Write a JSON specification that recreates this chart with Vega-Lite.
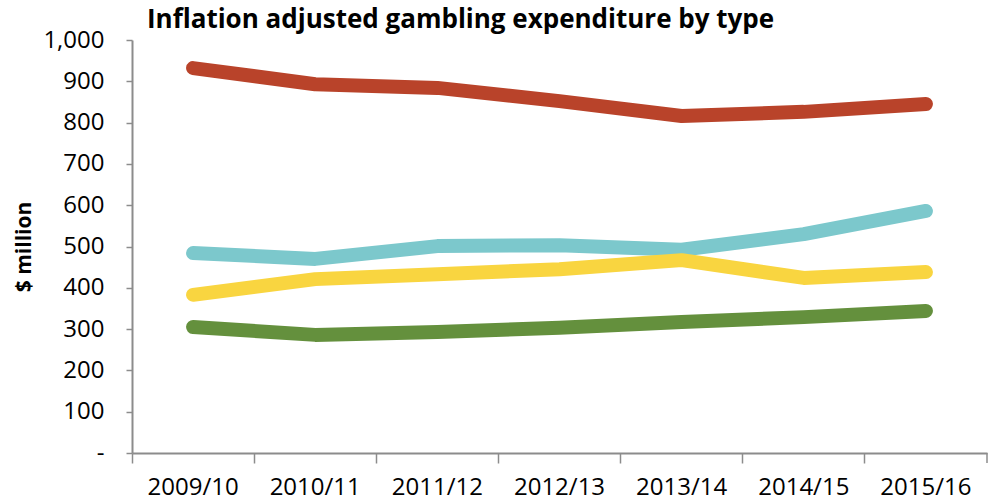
{
  "$schema": "https://vega.github.io/schema/vega-lite/v6.json",
  "width": 855,
  "height": 413,
  "autosize": {"type": "none"},
  "padding": {"left": 132, "top": 40, "right": 15, "bottom": 50},
  "background": "white",
  "title": {
    "text": "Inflation adjusted gambling expenditure by type",
    "anchor": "start",
    "frame": "group",
    "dx": 15,
    "offset": -5,
    "font": "Open Sans",
    "fontSize": 26,
    "fontWeight": "bold",
    "color": "#000000"
  },
  "config": {
    "view": {"stroke": null},
    "font": "Open Sans"
  },
  "datasets": {
    "series": [
      {"year": "2009/10", "type": "A", "value": 932},
      {"year": "2010/11", "type": "A", "value": 893},
      {"year": "2011/12", "type": "A", "value": 884},
      {"year": "2012/13", "type": "A", "value": 852},
      {"year": "2013/14", "type": "A", "value": 816},
      {"year": "2014/15", "type": "A", "value": 826},
      {"year": "2015/16", "type": "A", "value": 845},
      {"year": "2009/10", "type": "B", "value": 484},
      {"year": "2010/11", "type": "B", "value": 470},
      {"year": "2011/12", "type": "B", "value": 501},
      {"year": "2012/13", "type": "B", "value": 503},
      {"year": "2013/14", "type": "B", "value": 492},
      {"year": "2014/15", "type": "B", "value": 530},
      {"year": "2015/16", "type": "B", "value": 586},
      {"year": "2009/10", "type": "C", "value": 383},
      {"year": "2010/11", "type": "C", "value": 421},
      {"year": "2011/12", "type": "C", "value": 433},
      {"year": "2012/13", "type": "C", "value": 445},
      {"year": "2013/14", "type": "C", "value": 467},
      {"year": "2014/15", "type": "C", "value": 424},
      {"year": "2015/16", "type": "C", "value": 438},
      {"year": "2009/10", "type": "D", "value": 305},
      {"year": "2010/11", "type": "D", "value": 286},
      {"year": "2011/12", "type": "D", "value": 293},
      {"year": "2012/13", "type": "D", "value": 303},
      {"year": "2013/14", "type": "D", "value": 317},
      {"year": "2014/15", "type": "D", "value": 329},
      {"year": "2015/16", "type": "D", "value": 344}
    ],
    "lastTick": [{"year": "2015/16"}]
  },
  "layer": [
    {
      "data": {"name": "series"},
      "mark": {"type": "line", "strokeWidth": 14, "strokeCap": "round", "strokeJoin": "round"},
      "encoding": {
        "x": {
          "field": "year",
          "type": "ordinal",
          "scale": {"paddingInner": 0, "paddingOuter": 0},
          "axis": {
            "title": null,
            "labelAngle": 0,
            "bandPosition": 0,
            "labelFont": "Open Sans",
            "labelFontSize": 24,
            "labelColor": "#000000",
            "labelPadding": 12,
            "tickSize": 10,
            "tickColor": "#8c8c8c",
            "domainColor": "#8c8c8c",
            "domainWidth": 2,
            "tickWidth": 1.5
          }
        },
        "y": {
          "field": "value",
          "type": "quantitative",
          "scale": {"domain": [0, 1000], "nice": false},
          "axis": {
            "title": "$ million",
            "titleFont": "Open Sans",
            "titleFontSize": 21,
            "titleFontWeight": "bold",
            "titleColor": "#000000",
            "titlePadding": 8,
            "values": [0, 100, 200, 300, 400, 500, 600, 700, 800, 900, 1000],
            "labelExpr": "datum.value == 0 ? '-' : format(datum.value, ',')",
            "labelFont": "Open Sans",
            "labelFontSize": 24,
            "labelColor": "#000000",
            "labelPadding": 22,
            "tickSize": 6,
            "tickColor": "#8c8c8c",
            "domainColor": "#8c8c8c",
            "domainWidth": 2,
            "tickWidth": 1.5,
            "grid": false
          }
        },
        "color": {
          "field": "type",
          "type": "nominal",
          "scale": {"domain": ["A", "B", "C", "D"], "range": ["#B9432A", "#7CC8CC", "#F9D540", "#64903D"]},
          "legend": null
        }
      }
    },
    {
      "data": {"name": "lastTick"},
      "mark": {"type": "rule", "color": "#8c8c8c", "strokeWidth": 1.5},
      "encoding": {
        "x": {"field": "year", "type": "ordinal", "bandPosition": 1},
        "y": {"datum": 0},
        "y2": {"datum": -24}
      }
    }
  ]
}
